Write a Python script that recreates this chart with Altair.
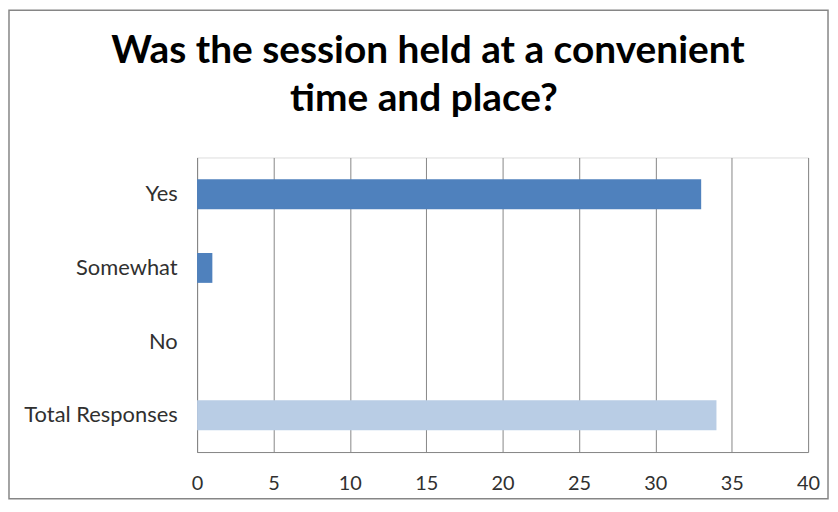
import altair as alt
import pandas as pd

categories = ["Yes", "Somewhat", "No", "Total Responses"]
counts = [33, 1, 0, 34]
series = ["Answer", "Answer", "Answer", "Total"]
title_lines = ["Was the session held at a convenient", "time and place?"]

df = pd.DataFrame({"category": categories, "count": counts, "series": series})

bars = alt.Chart(df).mark_bar(size=30).encode(
    y=alt.Y("category:N", sort=categories, title=None,
            axis=alt.Axis(labelFontSize=22, labelColor="#303030", labelFont="Lato",
                          labelPadding=20, ticks=False, domainColor="#868686",
                          domainWidth=1, grid=False)),
    x=alt.X("count:Q", title=None,
            scale=alt.Scale(domain=[0, 40], nice=False),
            axis=alt.Axis(values=list(range(0, 41, 5)), labelFontSize=20,
                          labelColor="#303030", labelFont="Lato", labelPadding=22,
                          ticks=False, grid=True, gridColor="#868686", gridWidth=1,
                          domainColor="#868686", labelFlush=False)),
    color=alt.Color("series:N",
                    scale=alt.Scale(domain=["Answer", "Total"], range=["#4F81BD", "#B9CDE5"]),
                    legend=None),
)

border = alt.Chart(pd.DataFrame({"b": [0]})).mark_rect(
    fill=None, stroke="#868686", strokeWidth=1.5
).encode(
    x=alt.value(-189), x2=alt.value(634),
    y=alt.value(-148), y2=alt.value(343),
)

title1 = alt.Chart(pd.DataFrame({"t": [title_lines[0]]})).mark_text(
    font="Lato", fontWeight="bold", fontSize=39, color="#000000",
    align="center", baseline="alphabetic"
).encode(text="t:N", x=alt.value(232), y=alt.value(-95))

title2 = alt.Chart(pd.DataFrame({"t": [title_lines[1]]})).mark_text(
    font="Lato", fontWeight="bold", fontSize=39, color="#000000",
    align="center", baseline="alphabetic"
).encode(text="t:N", x=alt.value(228), y=alt.value(-47))

chart = alt.layer(border, bars, title1, title2).properties(
    width=614, height=296,
    autosize=alt.AutoSizeParams(type="none"),
    padding={"left": 190, "top": 149, "right": 22, "bottom": 48},
).configure_view(stroke=None).configure(background="white")

chart.save("out.html", embed_options={"renderer": "svg", "actions": False})
